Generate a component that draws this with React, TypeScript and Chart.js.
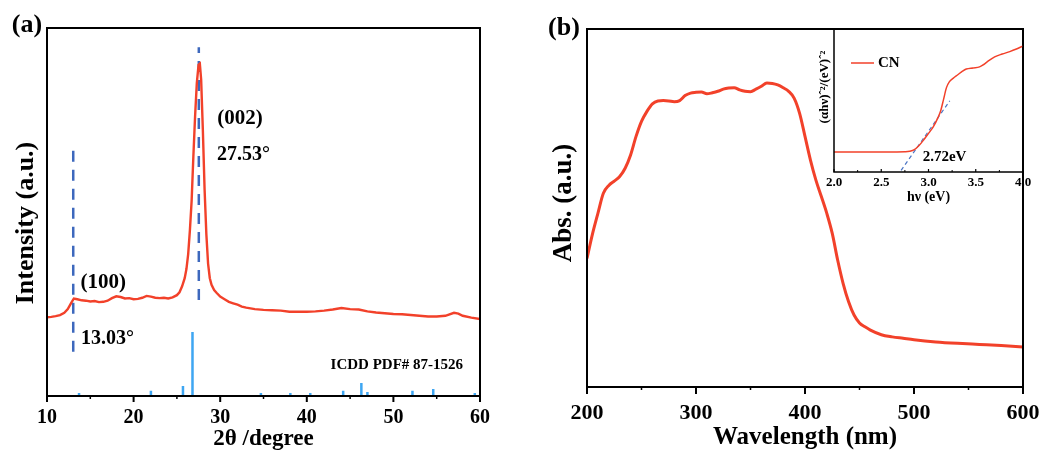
import React, { useEffect, useRef } from 'react';
import { Chart, registerables } from 'chart.js';

Chart.register(...registerables);

const SERIF = "'Liberation Serif', 'Times New Roman', serif";
const RED = '#f2412a';
const DASH_BLUE = '#3d68bd';
const STICK_BLUE = '#3ea6f2';

// ---------- (a) XRD ----------
const xrdTheta = [
  10.0, 10.5, 11.0, 11.5, 12.0, 12.4, 12.8, 13.1, 13.5, 14.0, 14.5, 15.0, 15.5, 16.0, 16.5, 17.0,
  17.5, 18.0, 18.5, 19.0, 19.5, 20.0, 20.5, 21.0, 21.5, 22.0, 22.5, 23.0, 23.5, 24.0, 24.5, 25.0,
  25.3, 25.6, 25.9, 26.1, 26.3, 26.5, 26.7, 26.9, 27.1, 27.3, 27.5, 27.65, 27.8, 28.0, 28.2, 28.4,
  28.6, 28.8, 29.0, 29.3, 29.6, 30.0, 30.5, 31.0, 31.5, 32.0, 32.5, 33.0, 33.5, 34.0, 35.0, 36.0,
  37.0, 38.0, 39.0, 40.0, 41.0, 42.0, 43.0, 44.0, 45.0, 46.0, 47.0, 48.0, 49.0, 50.0, 51.0, 52.0,
  53.0, 54.0, 55.0, 56.0, 57.0, 57.5, 58.0, 59.0, 60.0,
];
const xrdIntensity = [
  21.4, 21.5, 21.7, 22.0, 22.6, 23.6, 25.3, 26.5, 26.3, 26.0, 25.9, 25.7, 25.8, 25.5, 25.6, 25.9,
  26.6, 27.1, 26.9, 26.5, 26.6, 26.3, 26.4, 26.7, 27.2, 27.0, 26.7, 26.6, 26.7, 26.5, 26.8, 27.4,
  28.2, 29.8, 32.0, 34.5, 38.5, 45.0, 53.0, 65.0, 76.0, 85.0, 90.0, 90.3, 86.0, 72.0, 56.0, 44.0,
  36.0, 32.0, 30.2, 28.8, 28.0, 27.0, 26.3, 25.6, 25.2, 24.8, 24.3, 24.0, 23.8, 23.6, 23.4, 23.3,
  23.2, 22.9, 22.9, 22.9, 23.0, 23.2, 23.5, 23.9, 23.6, 23.5, 23.0, 22.7, 22.5, 22.3, 22.2, 22.0,
  21.8, 21.6, 21.6, 21.8, 22.6, 22.4, 21.8, 21.3, 20.9,
];
const pdfTheta = [13.7, 22.0, 25.7, 26.8, 34.7, 38.1, 40.4, 44.2, 46.3, 47.0, 52.2, 54.6, 59.4];
const pdfIntensity = [0.8, 1.4, 2.7, 17.4, 0.8, 0.8, 0.8, 1.4, 3.5, 1.1, 1.4, 1.9, 0.8];
const peakTheta = [13.03, 27.53];
const peakLineTop = [67.7, 94.8];
const peakLineBottom = [12.0, 26.1];
const xrdTicks = [10, 20, 30, 40, 50, 60];

// ---------- (b) UV-vis ----------
const wavelength = [
  200, 205, 210, 215, 220, 225, 230, 235, 240, 245, 250, 255, 260, 265, 270, 275, 280, 285, 290, 295,
  300, 305, 310, 315, 320, 325, 330, 335, 340, 345, 350, 355, 360, 365, 370, 375, 380, 385, 390, 395,
  400, 405, 410, 415, 420, 425, 430, 435, 440, 445, 450, 455, 460, 470, 480, 490, 500, 520, 540, 560,
  580, 600,
];
const absorbance = [
  35.9, 42.7, 48.5, 54.1, 56.3, 57.5, 58.8, 61.1, 64.8, 70.0, 74.2, 77.0, 79.1, 79.9, 80.0, 79.9, 79.7, 80.0, 81.4, 82.1,
  82.3, 82.4, 81.9, 82.2, 82.6, 83.2, 83.5, 83.6, 83.0, 82.6, 82.5, 83.2, 84.0, 84.9, 84.8, 84.4, 83.6, 82.6, 80.7, 76.5,
  70.0, 63.4, 57.8, 53.2, 48.5, 42.9, 35.4, 28.9, 23.8, 20.1, 17.9, 16.8, 15.9, 14.6, 14.0, 13.6, 13.2, 12.6, 12.2, 11.9,
  11.6, 11.2,
];
const wavelengthTicks = [200, 300, 400, 500, 600];

// ---------- inset: Tauc plot ----------
const photonEnergy = [
  2.0, 2.55, 2.75, 2.8, 2.85, 2.9, 2.95, 3.0, 3.05, 3.1, 3.13, 3.16, 3.19, 3.22, 3.26, 3.31, 3.36, 3.4,
  3.47, 3.54, 3.58, 3.63, 3.7, 3.78, 3.86, 3.93, 4.0,
];
const taucValue = [
  14.0, 14.0, 14.2, 14.5, 15.6, 18.5, 22.5, 27.0, 31.5, 38.0, 43.0, 51.0, 59.0, 63.0, 65.5, 68.0, 70.5, 72.0,
  72.8, 73.5, 75.0, 77.5, 80.5, 82.5, 84.2, 86.0, 88.1,
];
const tangentEnergy = [2.71, 3.225];
const tangentValue = [1.1, 49.8];
const energyTicks = [2.0, 2.5, 3.0, 3.5, 4.0];

const pts = (xs: number[], ys: number[]) => xs.map((x, i) => ({ x, y: ys[i] }));

type TextItem = { text: string; x: number; y: number; size: number; data?: boolean; align?: CanvasTextAlign };
type DecoCfg = {
  frame: number;
  tick: { major: number; minor: number; dir: number; majorW: number; minorW: number };
  texts: TextItem[];
  yTitle: { text: string; x: number; y: number; size: number };
  legend?: { x1: number; x2: number; y: number; tx: number; size: number };
};

const makeDeco = (cfg: DecoCfg) => ({
  id: 'deco',
  afterDraw(chart: any) {
    const ctx: CanvasRenderingContext2D = chart.ctx;
    const ca = chart.chartArea;
    const xs = chart.scales.x;
    const ys = chart.scales.y;
    ctx.save();
    ctx.strokeStyle = '#000';
    ctx.lineCap = 'butt';
    xs.ticks.forEach((tk: any) => {
      const px = xs.getPixelForValue(tk.value);
      const major = tk.label !== '' && tk.label != null;
      ctx.lineWidth = major ? cfg.tick.majorW : cfg.tick.minorW;
      ctx.beginPath();
      ctx.moveTo(px, ca.bottom);
      ctx.lineTo(px, ca.bottom + cfg.tick.dir * (major ? cfg.tick.major : cfg.tick.minor));
      ctx.stroke();
    });
    ctx.lineWidth = cfg.frame;
    ctx.strokeRect(ca.left, ca.top, ca.right - ca.left, ca.bottom - ca.top);

    ctx.fillStyle = '#000';
    ctx.textBaseline = 'middle';
    cfg.texts.forEach((t) => {
      ctx.font = `bold ${t.size}px ${SERIF}`;
      ctx.textAlign = t.align || 'center';
      const x = t.data ? xs.getPixelForValue(t.x) : t.x;
      const y = t.data ? ys.getPixelForValue(t.y) : t.y;
      ctx.fillText(t.text, x, y);
    });

    const yt = cfg.yTitle;
    ctx.save();
    ctx.translate(yt.x, yt.y);
    ctx.rotate(-Math.PI / 2);
    ctx.font = `bold ${yt.size}px ${SERIF}`;
    ctx.textAlign = 'center';
    ctx.fillText(yt.text, 0, 0);
    ctx.restore();

    if (cfg.legend) {
      const lg = cfg.legend;
      const ds = chart.data.datasets[0];
      ctx.strokeStyle = ds.borderColor;
      ctx.lineWidth = 1.5;
      ctx.beginPath();
      ctx.moveTo(lg.x1, lg.y);
      ctx.lineTo(lg.x2, lg.y);
      ctx.stroke();
      ctx.font = `bold ${lg.size}px ${SERIF}`;
      ctx.textAlign = 'left';
      ctx.fillText(ds.label, lg.tx, lg.y);
    }
    ctx.restore();
  },
});

const near = (list: number[], v: number) => list.some((t) => Math.abs(t - v) < 1e-6);

const fixHeight = (h: number) => (s: any) => {
  s.height = h;
  s.paddingLeft = 0;
  s.paddingRight = 0;
};

function configA(): any {
  const sticks = pdfTheta.flatMap((t, i) => [
    { x: t, y: 0 },
    { x: t, y: pdfIntensity[i] },
    { x: t, y: null },
  ]);
  const dashSets = peakTheta.map((t, i) => ({
    data: [
      { x: t, y: peakLineBottom[i] },
      { x: t, y: peakLineTop[i] },
    ],
    borderColor: DASH_BLUE,
    borderWidth: 2.5,
    borderDash: [11, 8],
    pointRadius: 0,
  }));
  return {
    type: 'line',
    data: {
      datasets: [
        { label: 'CN', data: pts(xrdTheta, xrdIntensity), borderColor: RED, borderWidth: 2.4, pointRadius: 0, tension: 0 },
        ...dashSets,
        { label: 'ICDD PDF# 87-1526', data: sticks, borderColor: STICK_BLUE, borderWidth: 2.5, pointRadius: 0, spanGaps: false },
      ],
    },
    options: {
      responsive: false,
      animation: false,
      layout: { padding: { left: 47, right: 40, top: 28, bottom: 0 } },
      plugins: { legend: { display: false }, tooltip: { enabled: false } },
      scales: {
        x: {
          type: 'linear',
          min: 10,
          max: 60,
          afterFit: fixHeight(57),
          grid: { display: false, drawTicks: false },
          border: { display: false },
          ticks: {
            stepSize: 5,
            autoSkip: false,
            maxRotation: 0,
            padding: 10,
            color: '#000',
            font: { family: SERIF, size: 20, weight: 'bold' },
            callback: (v: number) => (near(xrdTicks, v) ? String(v) : ''),
          },
          title: { display: true, text: '2θ /degree', color: '#000', padding: { top: 0, bottom: 0 }, font: { family: SERIF, size: 23, weight: 'bold' } },
        },
        y: { display: false, min: 0, max: 100 },
      },
    },
    plugins: [
      makeDeco({
        frame: 2,
        tick: { major: 6, minor: 3, dir: 1, majorW: 2, minorW: 1.5 },
        texts: [
          { text: '(a)', x: 27, y: 25, size: 26 },
          { text: '(100)', x: 16.5, y: 30.7, size: 21, data: true },
          { text: '(002)', x: 32.3, y: 75.5, size: 21, data: true },
          { text: '27.53°', x: 32.7, y: 65.5, size: 20, data: true },
          { text: '13.03°', x: 17.0, y: 15.5, size: 20, data: true },
          { text: 'ICDD PDF# 87-1526', x: 50.4, y: 8.4, size: 15, data: true },
        ],
        yTitle: { text: 'Intensity (a.u.)', x: 26, y: 223, size: 26 },
      }),
    ],
  };
}

function configB(): any {
  return {
    type: 'line',
    data: {
      datasets: [
        { label: 'CN', data: pts(wavelength, absorbance), borderColor: RED, borderWidth: 3, pointRadius: 0, cubicInterpolationMode: 'monotone' },
      ],
    },
    options: {
      responsive: false,
      animation: false,
      layout: { padding: { left: 67, right: 19, top: 29, bottom: 0 } },
      plugins: { legend: { display: false }, tooltip: { enabled: false } },
      scales: {
        x: {
          type: 'linear',
          min: 200,
          max: 600,
          afterFit: fixHeight(66),
          grid: { display: false, drawTicks: false },
          border: { display: false },
          ticks: {
            stepSize: 50,
            autoSkip: false,
            maxRotation: 0,
            padding: 13,
            color: '#000',
            font: { family: SERIF, size: 22, weight: 'bold' },
            callback: (v: number) => (near(wavelengthTicks, v) ? String(v) : ''),
          },
          title: { display: true, text: 'Wavelength (nm)', color: '#000', padding: { top: 0, bottom: 0 }, font: { family: SERIF, size: 25, weight: 'bold' } },
        },
        y: { display: false, min: 0, max: 100 },
      },
    },
    plugins: [
      makeDeco({
        frame: 2,
        tick: { major: 7, minor: 3, dir: 1, majorW: 2, minorW: 1.5 },
        texts: [{ text: '(b)', x: 44, y: 28, size: 26 }],
        yTitle: { text: 'Abs. (a.u.)', x: 44, y: 203, size: 27 },
      }),
    ],
  };
}

function configC(): any {
  return {
    type: 'line',
    data: {
      datasets: [
        { label: 'CN', data: pts(photonEnergy, taucValue), borderColor: RED, borderWidth: 1.5, pointRadius: 0, cubicInterpolationMode: 'monotone' },
        { label: '', data: pts(tangentEnergy, tangentValue), borderColor: '#4a74c4', borderWidth: 1.2, borderDash: [4, 3], pointRadius: 0 },
      ],
    },
    options: {
      responsive: false,
      animation: false,
      layout: { padding: { left: 34, right: 19, top: 29, bottom: 0 } },
      plugins: { legend: { display: false }, tooltip: { enabled: false } },
      scales: {
        x: {
          type: 'linear',
          min: 2,
          max: 4,
          afterFit: fixHeight(43),
          grid: { display: false, drawTicks: false },
          border: { display: false },
          ticks: {
            stepSize: 0.25,
            autoSkip: false,
            maxRotation: 0,
            padding: 3,
            color: '#000',
            font: { family: SERIF, size: 13, weight: 'bold' },
            callback: (v: number) => (near(energyTicks, v) ? v.toFixed(1) : ''),
          },
          title: { display: true, text: 'hν (eV)', color: '#000', padding: { top: 0, bottom: 9 }, font: { family: SERIF, size: 14, weight: 'bold' } },
        },
        y: { display: false, min: 0, max: 100 },
      },
    },
    plugins: [
      makeDeco({
        frame: 1.5,
        tick: { major: 3, minor: 2, dir: -1, majorW: 1.2, minorW: 1 },
        texts: [{ text: '2.72eV', x: 3.17, y: 10.5, size: 15, data: true }],
        yTitle: { text: '(αhν)ˆ²/(eV)ˆ²', x: 25, y: 87, size: 13 },
        legend: { x1: 51, x2: 74, y: 63, tx: 78, size: 15 },
      }),
    ],
  };
}

export default function App() {
  const aRef = useRef<HTMLCanvasElement>(null);
  const bRef = useRef<HTMLCanvasElement>(null);
  const cRef = useRef<HTMLCanvasElement>(null);

  useEffect(() => {
    document.body.style.margin = '0';
    const charts = [
      new Chart(aRef.current!, configA()),
      new Chart(bRef.current!, configB()),
      new Chart(cRef.current!, configC()),
    ];
    return () => charts.forEach((c) => c.destroy());
  }, []);

  return (
    <div style={{ position: 'relative', width: 1042, height: 453, background: '#fff', overflow: 'hidden' }}>
      <canvas ref={aRef} width={520} height={453} style={{ position: 'absolute', left: 0, top: 0 }} />
      <canvas ref={bRef} width={522} height={453} style={{ position: 'absolute', left: 520, top: 0 }} />
      <canvas ref={cRef} width={242} height={215} style={{ position: 'absolute', left: 800, top: 0 }} />
    </div>
  );
}
